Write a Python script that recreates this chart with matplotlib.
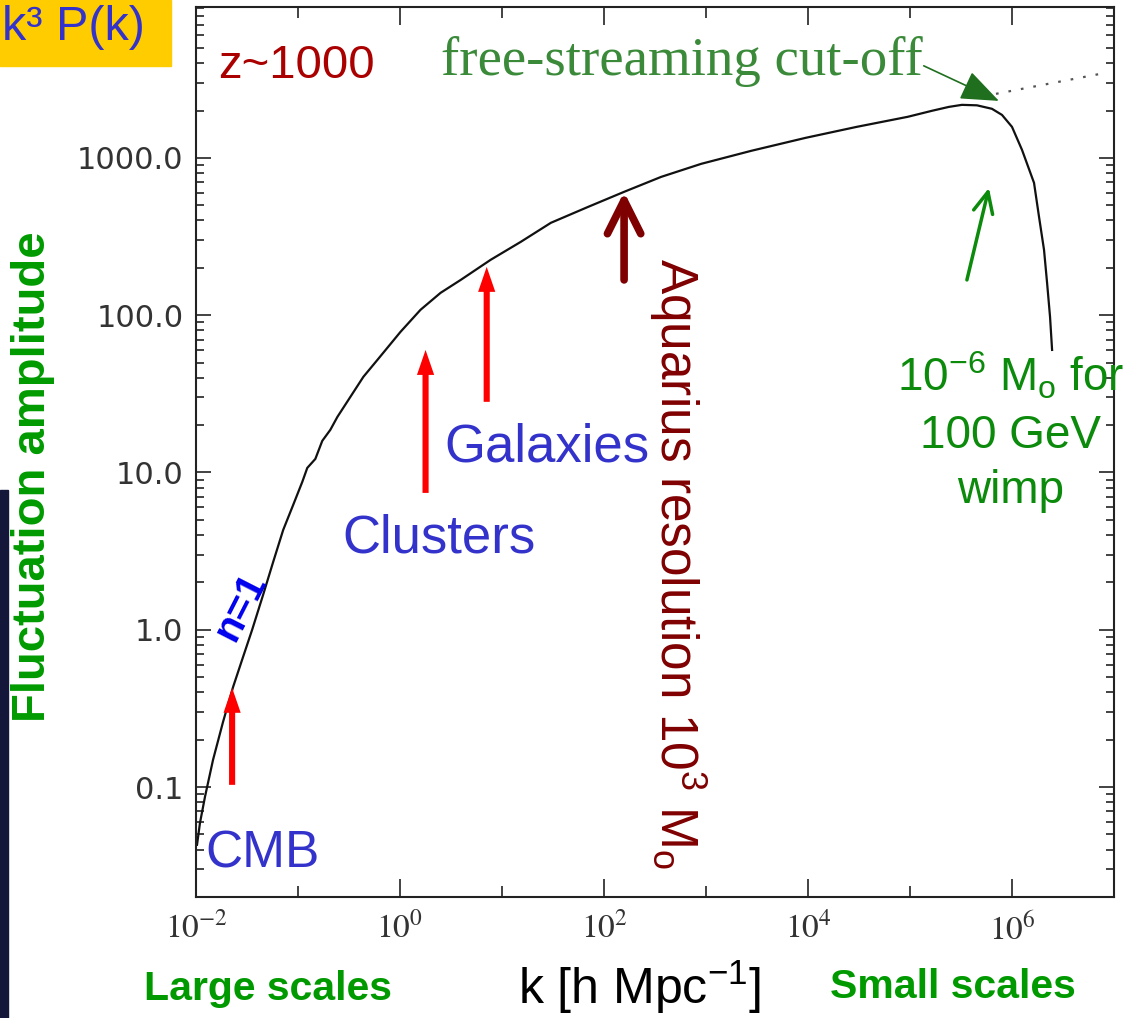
import matplotlib
matplotlib.use('Agg')
import matplotlib.pyplot as plt
import numpy as np
from matplotlib.patches import Rectangle
from matplotlib.ticker import FixedLocator, NullFormatter, LogLocator

plt.rcParams['font.family'] = ['Liberation Sans', 'DejaVu Sans']
plt.rcParams['mathtext.fontset'] = 'custom'
plt.rcParams['mathtext.rm'] = 'Liberation Sans'
plt.rcParams['mathtext.it'] = 'Liberation Sans:italic'
plt.rcParams['mathtext.bf'] = 'Liberation Sans:bold'

# ---------------- data ----------------
log_k = [-1.990, -1.961, -1.912, -1.833, -1.735, -1.636, -1.548, -1.450, -1.342,
         -1.243, -1.145, -1.047, -0.958, -0.909, -0.830, -0.762, -0.683, -0.614,
         -0.486, -0.359, -0.221, 0.005, 0.201, 0.398, 0.595, 0.889, 1.184, 1.479,
         1.843, 2.197, 2.560, 2.953, 3.445, 3.975, 4.477, 4.978, 5.214, 5.381,
         5.509, 5.656, 5.803, 5.902, 6.000, 6.098, 6.216, 6.265, 6.314, 6.344,
         6.373, 6.393]
log_amp = [-1.367, -1.228, -1.062, -0.827, -0.586, -0.363, -0.191, -0.001, 0.222,
           0.432, 0.635, 0.794, 0.940, 1.029, 1.086, 1.201, 1.271, 1.353,
           1.481, 1.608, 1.716, 1.894, 2.034, 2.142, 2.224, 2.352, 2.466, 2.587,
           2.688, 2.784, 2.879, 2.962, 3.045, 3.127, 3.197, 3.261, 3.299, 3.324,
           3.337, 3.334, 3.312, 3.273, 3.197, 3.051, 2.841, 2.625, 2.415, 2.205,
           1.989, 1.779]
k = 10 ** np.array(log_k)
amp = 10 ** np.array(log_amp)

# power-law continuation beyond the free-streaming cut-off (dotted)
cut_k = 10 ** np.array([5.843, 6.914])
cut_amp = 10 ** np.array([3.407, 3.540])

x_major = [1e-2, 1e0, 1e2, 1e4, 1e6]
x_major_labels = ['$10^{-2}$', '$10^{0}$', '$10^{2}$', '$10^{4}$', '$10^{6}$']
x_minor = [1e-1, 1e1, 1e3, 1e5]
y_major = [0.1, 1.0, 10.0, 100.0, 1000.0]
y_major_labels = ['0.1', '1.0', '10.0', '100.0', '1000.0']

# red scale arrows (k, tail amplitude, head amplitude)
scale_arrow_k = [10 ** -1.646, 10 ** 0.2506, 10 ** 0.850]
scale_arrow_tail = [10 ** -0.986, 10 ** 0.870, 10 ** 1.449]
scale_arrow_head = [10 ** -0.369, 10 ** 1.779, 10 ** 2.307]

# ---------------- figure ----------------
fig = plt.figure(figsize=(11.34, 10.18), dpi=100)
ax = fig.add_axes([0.17284, 0.11886, 0.80952, 0.87426])
ax.set_xscale('log')
ax.set_yscale('log')
ax.set_xlim(1e-2, 1e7)
ax.set_ylim(0.02, 9100)

ax.plot(k, amp, color='#111111', lw=1.6, solid_joinstyle='round')
ax.plot(cut_k, cut_amp, color='#555555', lw=1.6, ls=(0, (1.2, 4.5)))

for s in ax.spines.values():
    s.set_linewidth(1.5)
    s.set_color('#222222')

ax.xaxis.set_major_locator(FixedLocator(x_major))
ax.set_xticklabels(x_major_labels)
ax.xaxis.set_minor_locator(FixedLocator(x_minor))
ax.xaxis.set_minor_formatter(NullFormatter())
ax.yaxis.set_major_locator(FixedLocator(y_major))
ax.set_yticklabels(y_major_labels)
ax.yaxis.set_minor_locator(LogLocator(base=10, subs=np.arange(2, 10)))
ax.yaxis.set_minor_formatter(NullFormatter())

ax.tick_params(which='both', direction='in', top=True, right=True, color='#222222')
ax.tick_params(axis='x', which='major', length=13, width=1.2, pad=11)
ax.tick_params(axis='x', which='minor', length=8, width=1.2)
ax.tick_params(axis='y', which='major', length=11, width=1.2, pad=9)
ax.tick_params(axis='y', which='minor', length=6, width=1.2)
for lab in ax.get_xticklabels():
    lab.set_math_fontfamily('stix')
    lab.set_fontsize(24)
    lab.set_color('#333333')
for lab in ax.get_yticklabels():
    lab.set_family('DejaVu Sans')
    lab.set_fontsize(22)
    lab.set_color('#333333')

# red arrows
for xk, yt, yh in zip(scale_arrow_k, scale_arrow_tail, scale_arrow_head):
    ax.annotate('', xy=(xk, yh), xytext=(xk, yt),
                arrowprops=dict(arrowstyle='simple,head_length=0.9,head_width=0.62,tail_width=0.22',
                                mutation_scale=20, fc='#ff0000', ec='none', lw=0,
                                shrinkA=0, shrinkB=0))

# Aquarius arrow
ax.annotate('', xy=(10 ** 2.197, 10 ** 2.784), xytext=(10 ** 2.197, 10 ** 2.224),
            arrowprops=dict(arrowstyle='->,head_length=1.2,head_width=0.6',
                            mutation_scale=20, color='#7f0000', lw=5.5,
                            capstyle='round', joinstyle='round',
                            shrinkA=0, shrinkB=0))

# wimp arrow
ax.annotate('', xy=(10 ** 5.774, 10 ** 2.809), xytext=(10 ** 5.558, 10 ** 2.224),
            arrowprops=dict(arrowstyle='->,head_length=0.75,head_width=0.35',
                            mutation_scale=20, color='#0b8a0b', lw=2.5,
                            shrinkA=0, shrinkB=0))

# free-streaming cut-off arrow
ax.annotate('', xy=(10 ** 5.872, 10 ** 3.362), xytext=(10 ** 5.135, 10 ** 3.585),
            arrowprops=dict(arrowstyle='-|>,head_length=1.2,head_width=0.47',
                            mutation_scale=20, color='#1f6f1f', lw=1.2,
                            shrinkA=0, shrinkB=0))
ax.text(10 ** 0.398, 10 ** 3.528, 'free-streaming cut-off',
        family=['Liberation Serif', 'DejaVu Serif'], fontsize=39.5,
        color='#3a8a3a', ha='left', va='baseline')

# in-plot labels
blue = '#3333cc'
ax.text(10 ** -1.784, 10 ** 3.509, 'z~1000', color='#aa0000', fontsize=34,
        ha='left', va='baseline')
ax.text(10 ** -1.912, 10 ** -1.514, 'CMB', color=blue, fontsize=37,
        ha='left', va='baseline')
ax.text(10 ** -0.565, 10 ** 0.489, 'Clusters', color=blue, fontsize=38,
        ha='left', va='baseline')
ax.text(10 ** 0.437, 10 ** 1.067, 'Galaxies', color=blue, fontsize=38,
        ha='left', va='baseline')
ax.text(10 ** -1.568, 10 ** 0.146, 'n=1', color='#0000ee', fontsize=29,
        fontweight='bold', rotation=63, ha='center', va='center')
ax.text(10 ** 2.717, 10 ** 2.364, r'Aquarius resolution 10$^{3}$ M$_{\mathrm{o}}$',
        color='#7f0000', fontsize=37, rotation=-90, ha='center', va='top')
wimp_lines = [r'10$^{-6}$ M$_{\mathrm{o}}$ for', '100 GeV', 'wimp']
wimp_baselines = [10 ** 1.512, 10 ** 1.156, 10 ** 0.807]
for line, yb in zip(wimp_lines, wimp_baselines):
    ax.text(10 ** 5.99, yb, line, color='#0b8a0b', fontsize=33,
            ha='center', va='baseline')

# outside labels
fig.patches.append(Rectangle((0, 1 - 66 / 1018), 171 / 1134, 66 / 1018,
                             transform=fig.transFigure, color='#ffcc00', zorder=0))
fig.patches.append(Rectangle((0, 0), 8 / 1134, 528 / 1018,
                             transform=fig.transFigure, color='#14163a', zorder=0))
fig.text(2 / 1134, 1 - 40 / 1018, 'k³ P(k)', color=blue, fontsize=35,
         ha='left', va='baseline')
fig.text(33 / 1134, 1 - 477 / 1018, 'Fluctuation amplitude', color='#009a00',
         fontsize=34, fontweight='bold', rotation=90, ha='center', va='center')
fig.text(268 / 1134, 1 - 1000 / 1018, 'Large scales', color='#009a00',
         fontsize=29.5, fontweight='bold', ha='center', va='baseline')
fig.text(953 / 1134, 1 - 998 / 1018, 'Small scales', color='#009a00',
         fontsize=29.5, fontweight='bold', ha='center', va='baseline')
fig.text(640 / 1134, 1 - 1004 / 1018, r'k [h Mpc$^{-1}$]', color='black',
         fontsize=36, ha='center', va='baseline')

fig.savefig('out.png', dpi=100)
